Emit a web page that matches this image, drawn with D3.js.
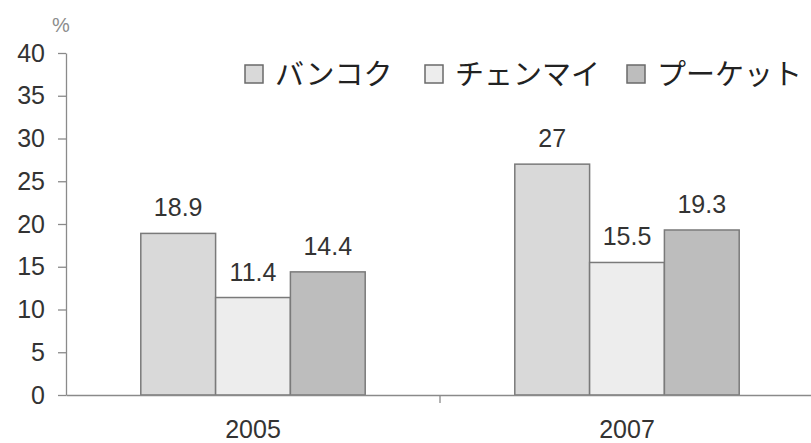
<!DOCTYPE html>
<html>
<head>
<meta charset="utf-8">
<script src="https://cdn.jsdelivr.net/npm/d3@7"></script>
<style>
  body { margin: 0; background: #fff; }
  svg { display: block; font-family: "Liberation Sans", Arial, sans-serif; }
</style>
</head>
<body>
<svg id="chart" width="811" height="443"></svg>
<script>
var years = ["2005", "2007"];
var cities = ["バンコク", "チェンマイ", "プーケット"];
var bangkok = [18.9, 27];
var chiangmai = [11.4, 15.5];
var phuket = [14.4, 19.3];
var yTicks = [0, 5, 10, 15, 20, 25, 30, 35, 40];

var fills = ["#d9d9d9", "#ededed", "#bdbdbd"];
var series = [bangkok, chiangmai, phuket];

var svg = d3.select("#chart");

var x0 = d3.scaleBand().domain(years).range([66, 814]);
var x1 = d3.scaleBand().domain(cities).range([0, x0.bandwidth()]).paddingOuter(1).paddingInner(0);
var y = d3.scaleLinear().domain([0, 40]).range([395, 53]);

// y axis
var yaxis = svg.append("g").attr("transform", "translate(66,0)")
  .call(d3.axisLeft(y).tickValues(yTicks).tickSize(8).tickPadding(13).tickSizeOuter(0));
yaxis.select(".domain").attr("stroke", "#8a8a8a").attr("stroke-width", 1.3);
yaxis.selectAll(".tick line").attr("stroke", "#8a8a8a").attr("stroke-width", 1.3);
yaxis.selectAll(".tick text").attr("fill", "#333").style("font-size", "25px");

svg.append("text").attr("x", 52).attr("y", 32).attr("fill", "#8c8c8c")
  .style("font-size", "20px").text("%");

// bars
years.forEach(function(yr, i) {
  var g = svg.append("g").attr("transform", "translate(" + x0(yr) + ",0)");
  cities.forEach(function(c, j) {
    var v = series[j][i];
    g.append("rect")
      .attr("x", x1(c)).attr("width", x1.bandwidth())
      .attr("y", y(v)).attr("height", y(0) - y(v))
      .attr("fill", fills[j]).attr("stroke", "#7a7a7a").attr("stroke-width", 1.5);
    g.append("text")
      .attr("x", x1(c) + x1.bandwidth() / 2).attr("y", y(v) - 17)
      .attr("text-anchor", "middle").attr("fill", "#333")
      .style("font-size", "25px").text(v);
  });
});

// x axis
var xaxis = svg.append("g").attr("transform", "translate(0,395)")
  .call(d3.axisBottom(x0).tickSize(0).tickPadding(25).tickSizeOuter(0));
xaxis.select(".domain").attr("stroke", "#8a8a8a").attr("stroke-width", 1.3);
xaxis.selectAll(".tick text").attr("fill", "#333").style("font-size", "25px");
xaxis.append("line").attr("x1", x0("2007")).attr("x2", x0("2007"))
  .attr("y1", 0).attr("y2", 8).attr("stroke", "#8a8a8a").attr("stroke-width", 1.3);

// legend
var legX = [245, 425, 627];
var leg = svg.append("g");
cities.forEach(function(c, j) {
  leg.append("rect").attr("x", legX[j]).attr("y", 65).attr("width", 18).attr("height", 18)
    .attr("fill", fills[j]).attr("stroke", "#6a6a6a").attr("stroke-width", 1.5);
  leg.append("text").attr("x", legX[j] + 30).attr("y", 85)
    .attr("fill", "#222")
    .style("font-family", "'Noto Sans CJK JP', sans-serif")
    .style("font-size", "29px").text(c);
});
</script>
</body>
</html>
